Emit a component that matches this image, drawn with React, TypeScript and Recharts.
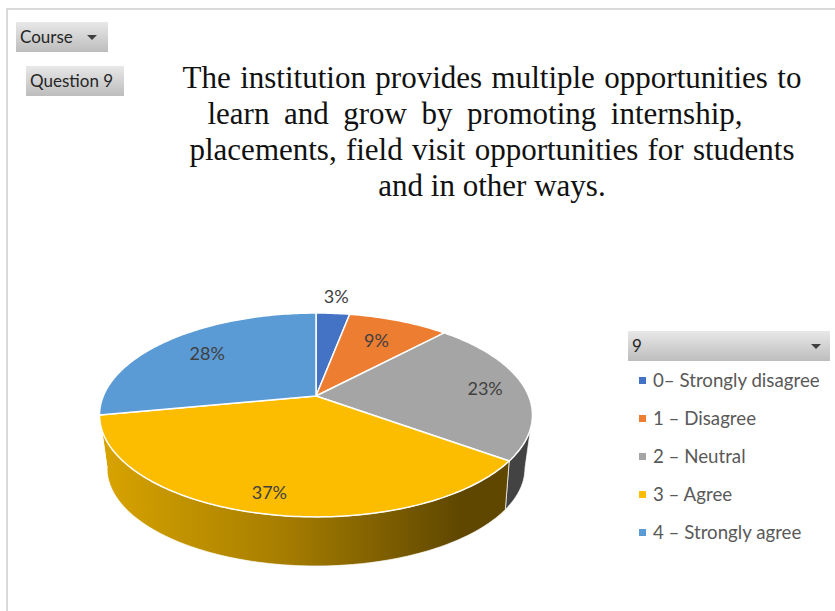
import React from 'react';
import { PieChart, Pie, Legend } from 'recharts';

const answers = ['0– Strongly disagree', '1 – Disagree', '2 – Neutral', '3 – Agree', '4 – Strongly agree'];
const shares = [3, 9, 23, 37, 28];
const topColors = ['#4472c4', '#ed7d31', '#a5a5a5', '#fcbd00', '#5b9bd5'];
const wallColors = ['#2f4f88', '#a4561f', '#434343', 'url(#wallYellow)', '#3f6b94'];
const titleLines = [
    'The institution provides multiple opportunities to',
    'learn and grow by promoting internship,',
    'placements, field visit opportunities for students',
    'and in other ways.',
];

const tableTop = answers.map((name, i) => ({ name, value: shares[i], fill: topColors[i] }));
const tableWall = answers.map((name, i) => ({ name, value: shares[i], fill: wallColors[i] }));

// perspective of the tilted disc
const CX = 316;
const CY = 396;
const RX = 212.7;
const RY = 98.4;
const K = 0.186;
const LOW_CY = 468;
const LOW_RX = 209;
const LOW_RY = 98;
const FRONT_FROM = 100.7;
const FRONT_TO = 259.3;
const labelReach = [1.24, 0.7, 0.81, 0.85, 0.72];
// title layout per line
const titleSpacing = [1.7, 6.8, 1.5, 0];
const titleShift = [0, -17, 0, 0];

// clockwise degrees from 12 o'clock
const clock = (rechartsAngle: number) => 90 - rechartsAngle;

const project = (deg: number, f = 1) => {
    const r = (deg * Math.PI) / 180;
    const c = Math.sin(r) * f;
    const s = -Math.cos(r) * f;
    const d = 1 - K * s;
    return { x: CX + (RX * c) / d, y: CY + (RY * s) / d };
};

const projectLow = (deg: number) => {
    const p = project(deg);
    const raw = (p.x - CX) * (p.x > CX ? 0.98 : 0.97);
    const dx = Math.max(-LOW_RX, Math.min(LOW_RX, raw));
    const t = Math.max(0, 1 - (dx / LOW_RX) ** 2);
    return { x: CX + dx, y: LOW_CY + LOW_RY * Math.sqrt(t) };
};

const arcPoints = (from: number, to: number, fn: (d: number) => { x: number; y: number }) => {
    const pts: string[] = [];
    const n = Math.max(2, Math.ceil(Math.abs(to - from)));
    for (let i = 0; i <= n; i++) {
        const p = fn(from + ((to - from) * i) / n);
        pts.push(`${p.x.toFixed(2)} ${p.y.toFixed(2)}`);
    }
    return pts;
};

const TopSlice = (props: any) => {
    const a = clock(props.startAngle);
    const b = clock(props.endAngle);
    const pts = arcPoints(a, b, (d) => project(d));
    return <path d={`M${CX} ${CY}L${pts.join('L')}Z`} fill={props.fill} stroke="#ffffff" strokeWidth={1.5} strokeLinejoin="round" />;
};

const WallSlice = (props: any) => {
    const a = Math.max(clock(props.startAngle), FRONT_FROM);
    const b = Math.min(clock(props.endAngle), FRONT_TO);
    if (b <= a) return <g />;
    const up = arcPoints(a, b, (d) => project(d));
    const low = arcPoints(b, a, projectLow);
    return <path d={`M${up.join('L')}L${low.join('L')}Z`} fill={props.fill} stroke="#ffffff" strokeWidth={1} strokeOpacity={0.7} />;
};

const renderPct = (props: any) => {
    const p = project(clock(props.midAngle), labelReach[props.index]);
    return (
        <text x={p.x} y={p.y - 1} textAnchor="middle" dominantBaseline="central" fontFamily="Lato" fontSize={18} fill="#404040">
            {props.value}%
        </text>
    );
};

// both pies feed the legend, only the top faces belong in it
const LegendList = ({ payload }: any) => (
    <div>
        {(payload || []).filter((e: any) => topColors.includes(e.color)).map((e: any) => (
            <div key={e.value} style={{ height: 38, display: 'flex', alignItems: 'center', whiteSpace: 'nowrap' }}>
                <span style={{ width: 7, height: 7, background: e.color, marginRight: 7 }} />
                <span style={{ fontFamily: 'Lato', fontSize: 18.7, color: '#595959' }}>{e.value}</span>
            </div>
        ))}
    </div>
);

const Filter = ({ left, top, width, label, arrow }: any) => (
    <div
        style={{
            position: 'absolute', left, top, width, height: 30, boxSizing: 'border-box',
            background: 'linear-gradient(#e8e8e8, #bdbdbd)', fontFamily: 'Lato', fontSize: 17, color: '#262626',
            lineHeight: '30px', paddingLeft: 4,
        }}
    >
        {label}
        {arrow !== undefined && (
            <span style={{ position: 'absolute', left: arrow, top: 13, width: 0, height: 0, borderLeft: '5px solid transparent', borderRight: '5px solid transparent', borderTop: '5px solid #404040' }} />
        )}
    </div>
);

export default function App() {
    return (
        <div style={{ position: 'absolute', left: 0, top: 0, width: 835, height: 611, background: '#fff', overflow: 'hidden' }}>
            <div style={{ position: 'absolute', left: 6, top: 8, right: 0, bottom: -4, border: '2px solid #d9d9d9', borderRight: 'none', borderBottom: 'none' }} />
            <PieChart width={835} height={611} style={{ position: 'absolute', left: 0, top: 0 }}>
                <defs>
                    <linearGradient id="wallYellow" gradientUnits="userSpaceOnUse" x1="100" y1="0" x2="510" y2="0">
                        <stop offset="0" stopColor="#d8a400" />
                        <stop offset="0.45" stopColor="#a67d00" />
                        <stop offset="0.88" stopColor="#5f4700" />
                        <stop offset="1" stopColor="#5f4700" />
                    </linearGradient>
                </defs>
                <Pie
                    data={tableWall}
                    dataKey="value"
                    nameKey="name"
                    cx={CX}
                    cy={CY}
                    outerRadius={100}
                    startAngle={90}
                    endAngle={-270}
                    legendType="none"
                    shape={WallSlice}
                    isAnimationActive={false}
                />
                <Pie
                    data={tableTop}
                    dataKey="value"
                    nameKey="name"
                    cx={CX}
                    cy={CY}
                    outerRadius={100}
                    startAngle={90}
                    endAngle={-270}
                    shape={TopSlice}
                    label={renderPct}
                    labelLine={false}
                    isAnimationActive={false}
                />
                <Legend
                    content={<LegendList />}
                    layout="vertical"
                    wrapperStyle={{ position: 'absolute', left: 639, top: 361, width: 195 }}
                />
            </PieChart>
            <Filter left={16} top={22} width={92} label="Course" arrow={71} />
            <Filter left={26} top={66} width={98} label="Question 9" />
            <Filter left={628} top={331} width={202} label="9" arrow={183} />
            <div style={{ position: 'absolute', left: 152, top: 60, width: 680, textAlign: 'center', fontFamily: 'Liberation Serif', fontSize: 31, lineHeight: '36px', color: '#111' }}>
                {titleLines.map((t, i) => (
                    <div key={t} style={{ whiteSpace: 'nowrap', wordSpacing: titleSpacing[i], position: 'relative', left: titleShift[i] }}>{t}</div>
                ))}
            </div>
        </div>
    );
}
